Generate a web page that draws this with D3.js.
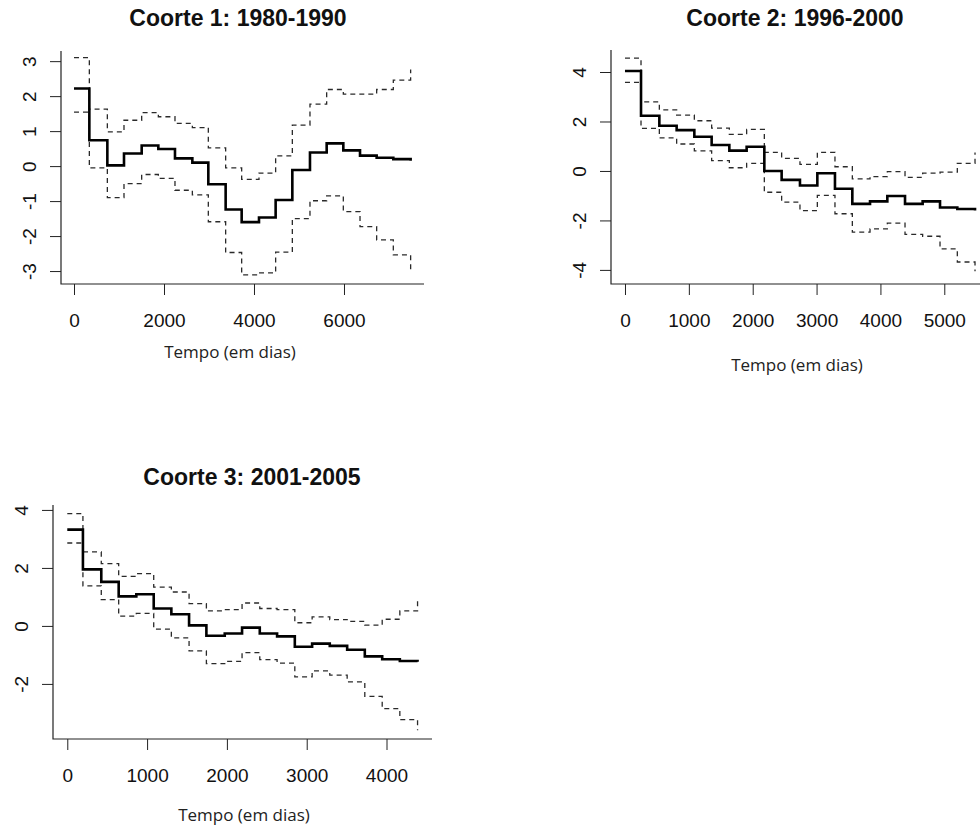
<!DOCTYPE html>
<html>
<head>
<meta charset="utf-8">
<script src="https://cdn.jsdelivr.net/npm/d3@7"></script>
<style>
  body { margin: 0; background: #fff; }
  svg { display: block; }
</style>
</head>
<body>
<div id="chart"></div>
<script>
// Coorte 1: 1980-1990
const tempo1 = [0, 341, 741, 1111, 1504, 1874, 2244, 2630, 2985, 3370, 3726, 4111, 4481, 4852, 5244, 5615, 5985, 6356, 6726, 7096, 7481];
const media1 = [2.22, 0.74, 0.02, 0.36, 0.59, 0.49, 0.22, 0.10, -0.52, -1.24, -1.60, -1.47, -0.97, -0.11, 0.39, 0.65, 0.45, 0.30, 0.24, 0.20, 0.15];
const sup1 = [3.10, 1.63, 0.98, 1.31, 1.53, 1.41, 1.22, 1.10, 0.52, -0.05, -0.38, -0.20, 0.29, 1.17, 1.77, 2.19, 2.06, 2.06, 2.19, 2.46, 2.76];
const inf1 = [1.54, -0.05, -0.90, -0.50, -0.24, -0.35, -0.69, -0.82, -1.59, -2.47, -3.11, -3.05, -2.46, -1.50, -0.99, -0.85, -1.30, -1.73, -2.11, -2.54, -3.02];

// Coorte 2: 1996-2000
const tempo2 = [0, 251, 538, 809, 1086, 1357, 1634, 1905, 2182, 2453, 2740, 3012, 3288, 3560, 3837, 4108, 4385, 4661, 4933, 5204, 5481];
const media2 = [4.04, 2.23, 1.83, 1.65, 1.38, 1.05, 0.82, 0.98, 0.00, -0.36, -0.59, -0.09, -0.72, -1.33, -1.23, -1.01, -1.33, -1.23, -1.48, -1.54, -1.60];
const sup2 = [4.56, 2.79, 2.47, 2.26, 2.03, 1.73, 1.48, 1.68, 0.75, 0.51, 0.27, 0.75, 0.17, -0.32, -0.23, -0.03, -0.26, -0.09, -0.05, 0.31, 0.75];
const inf2 = [3.58, 1.72, 1.34, 1.09, 0.81, 0.42, 0.13, 0.31, -0.86, -1.26, -1.60, -0.99, -1.73, -2.47, -2.34, -2.11, -2.56, -2.64, -3.15, -3.68, -4.05];

// Coorte 3: 2001-2005
const tempo3 = [0, 196, 426, 644, 865, 1083, 1304, 1526, 1743, 1973, 2190, 2412, 2629, 2851, 3068, 3289, 3507, 3728, 3946, 4167, 4389];
const media3 = [3.32, 1.95, 1.52, 1.02, 1.09, 0.60, 0.40, 0.02, -0.34, -0.26, -0.06, -0.26, -0.36, -0.72, -0.61, -0.69, -0.82, -1.05, -1.15, -1.21, -1.24];
const sup3 = [3.87, 2.55, 2.15, 1.71, 1.80, 1.34, 1.17, 0.77, 0.52, 0.56, 0.79, 0.60, 0.56, 0.11, 0.31, 0.22, 0.16, 0.03, 0.23, 0.52, 0.85];
const inf3 = [2.86, 1.38, 0.91, 0.34, 0.43, -0.11, -0.41, -0.86, -1.30, -1.22, -0.92, -1.16, -1.28, -1.76, -1.55, -1.70, -1.93, -2.43, -2.85, -3.23, -3.60];

// eixos
const ticksX1 = [0, 2000, 4000, 6000];
const ticksY1 = [-3, -2, -1, 0, 1, 2, 3];
const ticksX2 = [0, 1000, 2000, 3000, 4000, 5000];
const ticksY2 = [-4, -2, 0, 2, 4];
const ticksX3 = [0, 1000, 2000, 3000, 4000];
const ticksY3 = [-2, 0, 2, 4];

const titulos = ["Coorte 1: 1980-1990", "Coorte 2: 1996-2000", "Coorte 3: 2001-2005"];
const rotuloX = "Tempo (em dias)";

// layout of each panel (pixel box + limits like R's xlim/ylim)
const paineis = [
  { tempo: tempo1, media: media1, sup: sup1, inf: inf1, tx: ticksX1, ty: ticksY1, titulo: titulos[0],
    box: [61, 51, 424, 284], xlim: [-289, 7778], ylim: [-3.37, 3.29], tituloPos: [238, 26], rotuloPos: [230, 358] },
  { tempo: tempo2, media: media2, sup: sup2, inf: inf2, tx: ticksX2, ty: ticksY2, titulo: titulos[1],
    box: [611, 50, 989, 284], xlim: [-219, 5700], ylim: [-4.57, 4.89], tituloPos: [795, 26], rotuloPos: [797, 371] },
  { tempo: tempo3, media: media3, sup: sup3, inf: inf3, tx: ticksX3, ty: ticksY3, titulo: titulos[2],
    box: [53, 505, 432, 739], xlim: [-179, 4570], ylim: [-3.90, 4.17], tituloPos: [252, 485], rotuloPos: [244, 821] }
];

const width = 980, height = 828;
const fonteEixo = "'Liberation Sans', Arial, sans-serif";
const fmt = d => String(d); // hifen simples, como no R

const svg = d3.select("#chart").append("svg")
  .attr("width", width)
  .attr("height", height);

svg.append("rect").attr("width", width).attr("height", height).attr("fill", "#fff");

function desenhaPainel(p) {
  const [x0, y0, x1, y1] = p.box;
  const x = d3.scaleLinear().domain(p.xlim).range([x0, x1]);
  const y = d3.scaleLinear().domain(p.ylim).range([y1, y0]);
  const g = svg.append("g");

  // titulo
  g.append("text")
    .attr("x", p.tituloPos[0])
    .attr("y", p.tituloPos[1])
    .attr("text-anchor", "middle")
    .style("font-family", fonteEixo)
    .style("font-weight", "bold")
    .style("font-size", "23px")
    .style("fill", "#111")
    .text(p.titulo);

  // eixo x
  const gx = g.append("g")
    .attr("transform", "translate(0," + y1 + ")")
    .call(d3.axisBottom(x).tickValues(p.tx).tickSize(11).tickSizeOuter(0).tickFormat(fmt));
  gx.select(".domain").remove();
  gx.selectAll(".tick line").attr("stroke", "#222");
  gx.selectAll(".tick text")
    .attr("y", 36).attr("dy", "0.36em")
    .style("font-family", fonteEixo).style("font-size", "19px").style("fill", "#111");

  // eixo y (rotulos girados como no R)
  const gy = g.append("g")
    .attr("transform", "translate(" + x0 + ",0)")
    .call(d3.axisLeft(y).tickValues(p.ty).tickSize(11).tickSizeOuter(0).tickFormat(fmt));
  gy.select(".domain").remove();
  gy.selectAll(".tick line").attr("stroke", "#222");
  gy.selectAll(".tick text")
    .attr("transform", "rotate(-90)")
    .attr("x", 0).attr("y", -32).attr("dy", "0.36em")
    .attr("text-anchor", "middle")
    .style("font-family", fonteEixo).style("font-size", "19px").style("fill", "#111");

  // caixa em L
  g.append("path")
    .attr("d", "M" + x0 + "," + y0 + "V" + y1 + "H" + x1)
    .attr("fill", "none")
    .attr("stroke", "#222")
    .attr("stroke-width", 1.2);

  // rotulo do eixo x
  g.append("text")
    .attr("x", p.rotuloPos[0])
    .attr("y", p.rotuloPos[1])
    .attr("text-anchor", "middle")
    .style("font-family", "'Open Sans', sans-serif")
    .style("font-size", "17px")
    .style("fill", "#222")
    .text(rotuloX);

  const linha = serie => d3.line()
    .x((d, i) => x(p.tempo[i]))
    .y(d => y(d))
    .curve(d3.curveStepAfter)(serie);

  [p.sup, p.inf].forEach(s => {
    g.append("path")
      .attr("d", linha(s))
      .attr("fill", "none")
      .attr("stroke", "#2a2a2a")
      .attr("stroke-width", 1.3)
      .attr("stroke-dasharray", "5,4");
  });

  g.append("path")
    .attr("d", linha(p.media))
    .attr("fill", "none")
    .attr("stroke", "#000")
    .attr("stroke-width", 2.6);
}

paineis.forEach(desenhaPainel);
</script>
</body>
</html>
